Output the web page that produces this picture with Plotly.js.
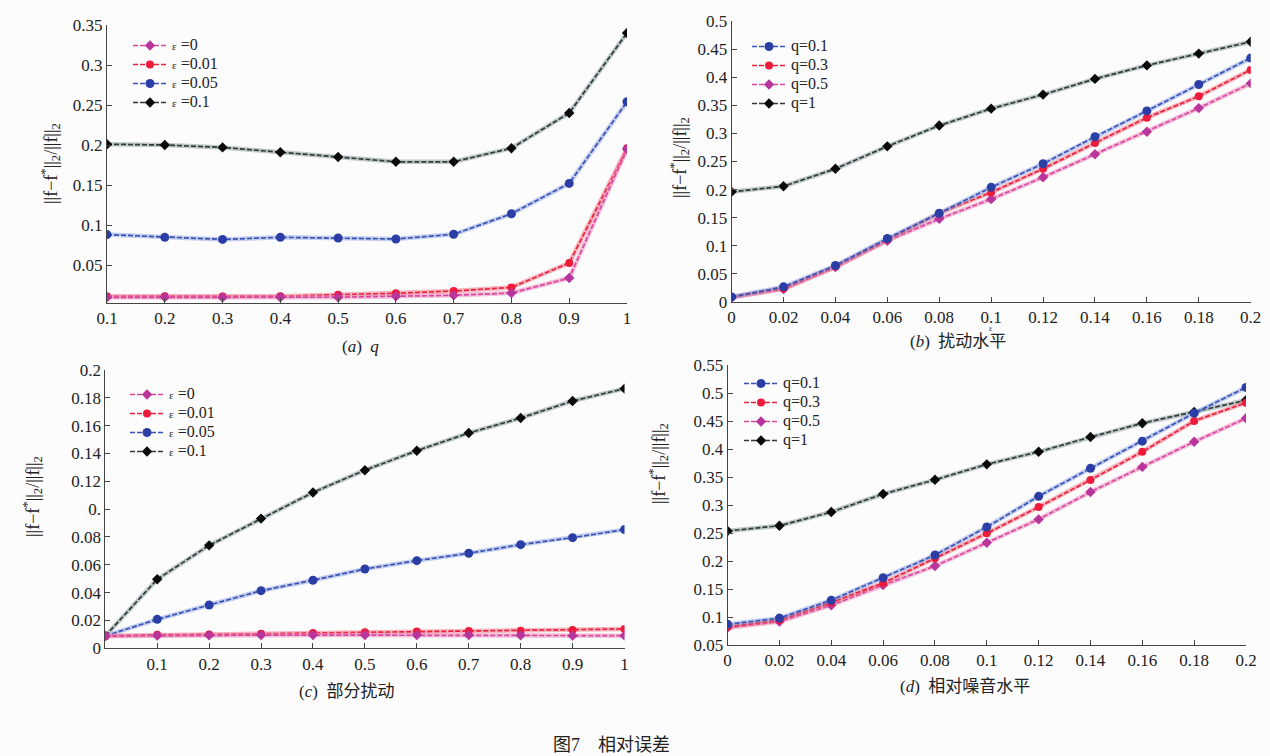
<!DOCTYPE html>
<html><head><meta charset="utf-8">
<script src="https://cdn.plot.ly/plotly-3.0.1.min.js"></script>
<style>html,body{margin:0;padding:0;background:#fcfcfc;}#chart{width:1270px;height:756px;}</style>
</head><body><div id="chart"></div>
<script>
// ---- data ----
const qA = [0.1,0.2,0.3,0.4,0.5,0.6,0.7,0.8,0.9,1];
const a_e0   = [0.0096,0.0096,0.0095,0.0096,0.0097,0.011,0.0121,0.015,0.0337,0.195];
const a_e001 = [0.011,0.011,0.0105,0.011,0.0129,0.0146,0.0175,0.022,0.0525,0.196];
const a_e005 = [0.088,0.0846,0.082,0.0846,0.0837,0.0825,0.0884,0.114,0.152,0.254];
const a_e01  = [0.201,0.2,0.197,0.191,0.185,0.179,0.179,0.196,0.24,0.34];

const epsB = [0,0.02,0.04,0.06,0.08,0.1,0.12,0.14,0.16,0.18,0.2];
const b_q01 = [0.009,0.027,0.065,0.113,0.158,0.204,0.246,0.294,0.34,0.387,0.434];
const b_q03 = [0.009,0.024,0.063,0.111,0.158,0.195,0.237,0.283,0.328,0.366,0.413];
const b_q05 = [0.008,0.023,0.062,0.109,0.148,0.183,0.222,0.263,0.303,0.345,0.389];
const b_q1  = [0.196,0.206,0.237,0.277,0.314,0.344,0.369,0.397,0.421,0.442,0.463];

const pC = [0,0.1,0.2,0.3,0.4,0.5,0.6,0.7,0.8,0.9,1];
const c_e0   = [0.0089,0.0092,0.0093,0.0095,0.0095,0.0095,0.0095,0.0095,0.0093,0.0091,0.0091];
const c_e001 = [0.0089,0.0098,0.01,0.0105,0.011,0.0115,0.012,0.0125,0.0127,0.0132,0.0139];
const c_e005 = [0.0089,0.0208,0.0311,0.0414,0.0489,0.057,0.063,0.0683,0.0745,0.0795,0.0853];
const c_e01  = [0.0089,0.0496,0.074,0.0932,0.112,0.128,0.142,0.1547,0.1655,0.1777,0.1866];

const noiseD = [0,0.02,0.04,0.06,0.08,0.1,0.12,0.14,0.16,0.18,0.2];
const d_q01 = [0.0869,0.098,0.130,0.170,0.2107,0.2607,0.3155,0.3655,0.414,0.464,0.51];
const d_q03 = [0.0827,0.0946,0.126,0.1607,0.2048,0.2494,0.2964,0.3446,0.395,0.45,0.4827];
const d_q05 = [0.081,0.0917,0.121,0.157,0.191,0.2327,0.2744,0.3232,0.368,0.413,0.4548];
const d_q1  = [0.2536,0.263,0.2875,0.3196,0.345,0.3726,0.395,0.4214,0.446,0.466,0.487];

const ticksA = [0.1,0.2,0.3,0.4,0.5,0.6,0.7,0.8,0.9,1];
const tickTextA = ['0.1','0.2','0.3','0.4','0.5','0.6','0.7','0.8','0.9','1'];
const ticks02 = [0,0.02,0.04,0.06,0.08,0.1,0.12,0.14,0.16,0.18,0.2];
const tickText02 = ['0','0.02','0.04','0.06','0.08','0.1','0.12','0.14','0.16','0.18','0.2'];
const yTickTextC = ['0','0.02','0.04','0.06','0.08','0.','0.12','0.14','0.16','0.18','0.2'];
const yTicksA = [0.05,0.1,0.15,0.2,0.25,0.3,0.35];
const yTicksB = [0,0.05,0.1,0.15,0.2,0.25,0.3,0.35,0.4,0.45,0.5];
const yTicksD = [0.05,0.1,0.15,0.2,0.25,0.3,0.35,0.4,0.45,0.5,0.55];

const namesEps = ['ε =0','ε =0.01','ε =0.05','ε =0.1'];
const namesQ = ['q=0.1','q=0.3','q=0.5','q=1'];

// ---- styles ----
const SERIF = '"Liberation Serif"';
const CJK = '"Liberation Serif", "Noto Sans CJK SC"';
const ST = {
  black:{line:'#2f3b3b', halo:'rgba(120,140,140,0.45)', marker:'#0a0a0a', symbol:'diamond', size:8},
  blue:{line:'#3a52b4', halo:'rgba(140,160,225,0.5)', marker:'#2b3ea6', symbol:'circle', size:9},
  red:{line:'#e8213c', halo:'rgba(240,110,130,0.5)', marker:'#ee1b3b', symbol:'circle', size:8},
  mag:{line:'#d9489c', halo:'rgba(235,140,190,0.55)', marker:'#b8359c', symbol:'diamond', size:8}
};
function legName(n){
  return '<span style="font-size:16px">' + n.replace('ε','<span style="font-size:11px">ε</span>') + '</span>';
}
const traces = [];
function add(x,y,name,st,ax,leg){
  const xa = ax===1?'x':'x'+ax, ya = ax===1?'y':'y'+ax;
  traces.push({x:x,y:y,xaxis:xa,yaxis:ya,mode:'lines',line:{color:st.halo,width:4.5},showlegend:false,hoverinfo:'skip'});
  traces.push({x:x,y:y,xaxis:xa,yaxis:ya,name:legName(name),legend:leg,mode:'lines+markers',
    line:{color:st.line,width:1.7,dash:'5px,2px'},marker:{color:st.marker,size:st.size,symbol:st.symbol}});
}
add(qA,a_e01,namesEps[3],ST.black,1,'legend');
add(qA,a_e005,namesEps[2],ST.blue,1,'legend');
add(qA,a_e001,namesEps[1],ST.red,1,'legend');
add(qA,a_e0,namesEps[0],ST.mag,1,'legend');

add(epsB,b_q1,namesQ[3],ST.black,2,'legend2');
add(epsB,b_q05,namesQ[2],ST.mag,2,'legend2');
add(epsB,b_q03,namesQ[1],ST.red,2,'legend2');
add(epsB,b_q01,namesQ[0],ST.blue,2,'legend2');

add(pC,c_e01,namesEps[3],ST.black,3,'legend3');
add(pC,c_e005,namesEps[2],ST.blue,3,'legend3');
add(pC,c_e001,namesEps[1],ST.red,3,'legend3');
add(pC,c_e0,namesEps[0],ST.mag,3,'legend3');

add(noiseD,d_q1,namesQ[3],ST.black,4,'legend4');
add(noiseD,d_q05,namesQ[2],ST.mag,4,'legend4');
add(noiseD,d_q03,namesQ[1],ST.red,4,'legend4');
add(noiseD,d_q01,namesQ[0],ST.blue,4,'legend4');

const W=1270,H=756;
const px = v=>v/W, py = v=>1-v/H;
const tf = {family:SERIF,size:17,color:'#222'};
function axBase(extra){
  return Object.assign({showline:true,linecolor:'#444',linewidth:1,ticks:'inside',ticklen:5,tickcolor:'#444',
    showgrid:false,zeroline:false,tickfont:tf,mirror:false,fixedrange:true},extra);
}
const legBase = {bgcolor:'rgba(0,0,0,0)',font:{family:SERIF,size:11,color:'#222'},itemwidth:34,tracegroupgap:0,
  traceorder:'reversed',xanchor:'left',yanchor:'top'};

const layout = {
  width:W,height:H,margin:{l:0,r:0,t:0,b:0},paper_bgcolor:'#fcfcfc',plot_bgcolor:'rgba(0,0,0,0)',
  font:{family:SERIF,size:16,color:'#222'},
  showlegend:true,
  xaxis:axBase({domain:[px(107),px(627)],anchor:'y',range:[0.1,1],tickvals:ticksA,ticktext:tickTextA}),
  yaxis:axBase({domain:[py(303),py(25)],anchor:'x',range:[0.0025,0.35],tickvals:yTicksA,ticktext:yTicksA.map(String)}),
  xaxis2:axBase({domain:[px(731.6),px(1250.7)],anchor:'y2',range:[0,0.2],tickvals:ticks02,ticktext:tickText02}),
  yaxis2:axBase({domain:[py(302),py(21)],anchor:'x2',range:[0,0.5],tickvals:yTicksB,ticktext:yTicksB.map(String)}),
  xaxis3:axBase({domain:[px(105.3),px(624.5)],anchor:'y3',range:[0,1],tickvals:ticksA,ticktext:tickTextA}),
  yaxis3:axBase({domain:[py(648.3),py(370)],anchor:'x3',range:[0,0.2],tickvals:ticks02,ticktext:yTickTextC}),
  xaxis4:axBase({domain:[px(727.6),px(1246)],anchor:'y4',range:[0,0.2],tickvals:ticks02,ticktext:tickText02}),
  yaxis4:axBase({domain:[py(645),py(365)],anchor:'x4',range:[0.05,0.55],tickvals:yTicksD,ticktext:yTicksD.map(String)}),
  legend:Object.assign({},legBase,{x:px(128),y:py(31)}),
  legend2:Object.assign({},legBase,{x:px(747),y:py(32)}),
  legend3:Object.assign({},legBase,{x:px(125),y:py(380)}),
  legend4:Object.assign({},legBase,{x:px(739),y:py(369)}),
  annotations:[]
};
const ylab = '||f−f<sup>*</sup>||<sub>2</sub>/||f||<sub>2</sub>';
[[50,164],[680,158],[32,497],[658,464]].forEach(p=>{
  layout.annotations.push({xref:'paper',yref:'paper',x:px(p[0]),y:py(p[1]),text:ylab,textangle:-90,showarrow:false,
    font:{family:SERIF,size:18,color:'#222'},xanchor:'center',yanchor:'middle'});
});
const capFont = {family:CJK,size:17,color:'#222'};
const caps = [['(<i>a</i>)  <i>q</i>',360,346],['(<i>b</i>)  扰动水平',958,342],['(<i>c</i>)  部分扰动',346,691],['(<i>d</i>)  相对噪音水平',965,686]];
caps.forEach(c=>layout.annotations.push({xref:'paper',yref:'paper',x:px(c[1]),y:py(c[2]),text:c[0],showarrow:false,font:capFont,xanchor:'center',yanchor:'middle'}));
layout.annotations.push({xref:'x2',yref:'paper',x:0.1,y:py(329),text:'ε',showarrow:false,font:{family:SERIF,size:8,color:'#333'},xanchor:'center',yanchor:'middle'});
layout.annotations.push({xref:'paper',yref:'paper',x:px(611),y:py(745),text:'图7    相对误差',showarrow:false,
  font:{family:CJK,size:18,color:'#222'},xanchor:'center',yanchor:'middle'});

Plotly.newPlot('chart',traces,layout,{displayModeBar:false,staticPlot:true});
</script></body></html>
